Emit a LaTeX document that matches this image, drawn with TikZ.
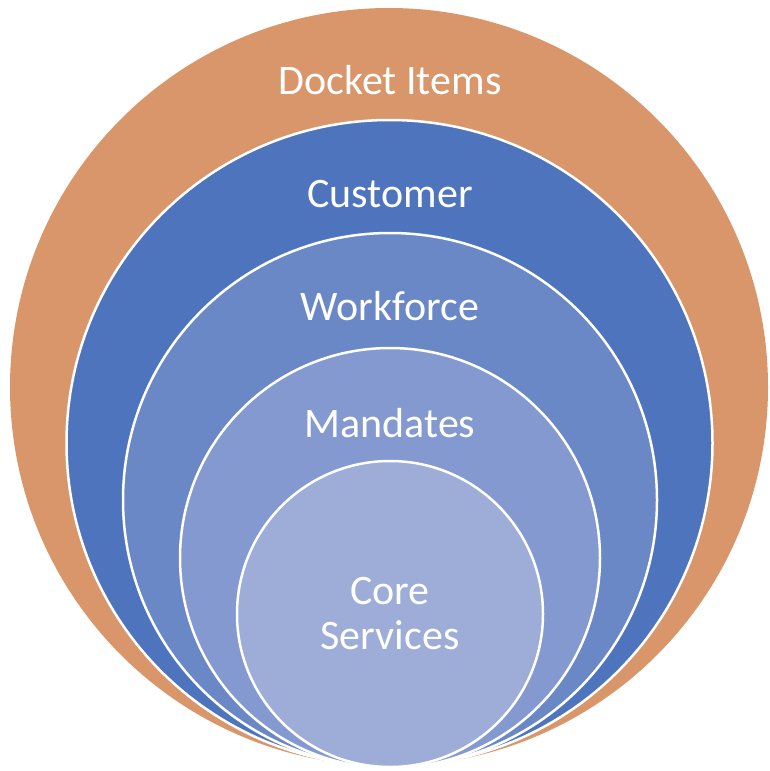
\documentclass[tikz,border=0pt]{standalone}
\usepackage{fontspec}
\setmainfont{Carlito}
\definecolor{cDocket}{HTML}{D8966A}
\definecolor{cCustomer}{HTML}{4E74BE}
\definecolor{cWorkforce}{HTML}{6A87C6}
\definecolor{cMandates}{HTML}{8499D0}
\definecolor{cCore}{HTML}{9EADD7}
\begin{document}
\begin{tikzpicture}[x=1pt,y=-1pt,
  ring/.style={circle,inner sep=0pt,draw=white,line width=2.5pt},
  lbl/.style={text=white,font=\fontsize{42}{46}\selectfont,anchor=base,align=center,inner sep=0pt}]
\useasboundingbox (0,0) rectangle (769,771);
\node[ring,draw=none,fill=cDocket,minimum size=758pt] (docket) at (389,387) {};
\node[ring,fill=cCustomer,minimum size=646pt] (customer) at (389.5,443) {};
\node[ring,fill=cWorkforce,minimum size=534pt] (workforce) at (390,500) {};
\node[ring,fill=cMandates,minimum size=420pt] (mandates) at (390,558) {};
\node[ring,fill=cCore,minimum size=306pt] (core) at (390,614) {};
\node[lbl] (tdocket) at (390,94.5) {Docket Items};
\node[lbl] (tcustomer) at (390,207.5) {Customer};
\node[lbl] (tworkforce) at (390,320.5) {Workforce};
\node[lbl] (tmandates) at (390,437.5) {Mandates};
\node[lbl] (tcore) at (390,604.5) {Core};
\node[lbl] (tservices) at (390,649.5) {Services};
\end{tikzpicture}
\end{document}
